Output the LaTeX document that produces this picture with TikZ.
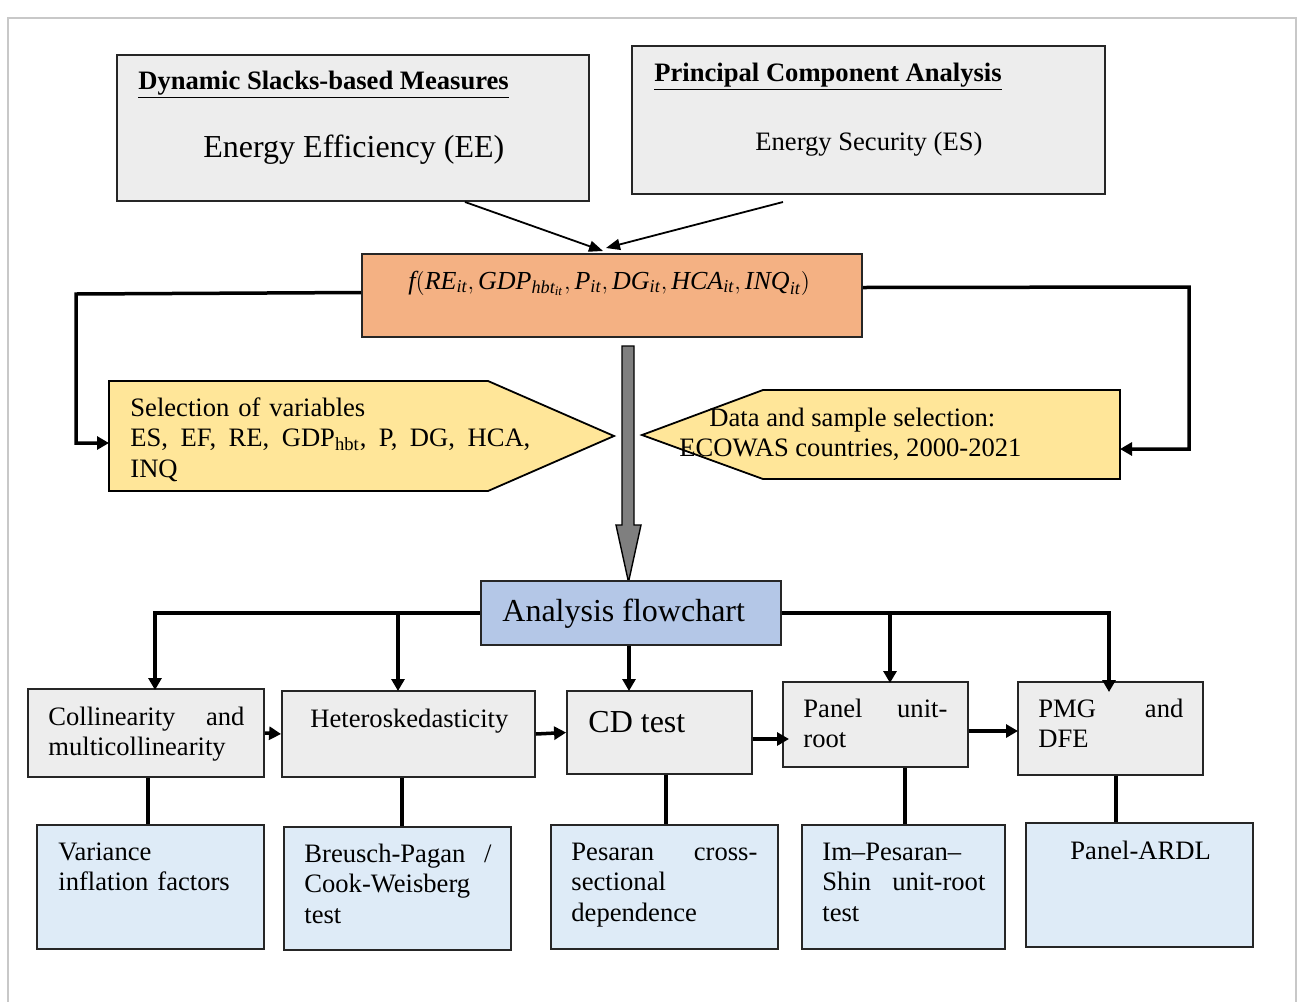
\documentclass[tikz,border=0pt]{standalone}
\usepackage{fontspec}
\setmainfont{Liberation Serif}
\usetikzlibrary{arrows.meta,fit,calc}
\definecolor{boxgray}{HTML}{EDEDED}
\definecolor{formorange}{HTML}{F4B183}
\definecolor{penyellow}{HTML}{FFE699}
\definecolor{anablue}{HTML}{B4C7E7}
\definecolor{lightblue}{HTML}{DEEBF7}
\definecolor{arrowgray}{HTML}{7F7F7F}
\definecolor{framegray}{HTML}{C8C8C8}
\newcommand\mytxt{\fontsize{13.3}{15.3}\selectfont}
\newcommand\mybig{\fontsize{16}{19}\selectfont}
\newcommand\mv[1]{\mathit{#1}_{\mathit{it}}}
\tikzset{
  boxbase/.style={draw=black!85, line width=0.9pt, inner sep=0pt},
  gbox/.style={boxbase, fill=boxgray},
  bbox/.style={boxbase, fill=lightblue},
  txt/.style={inner sep=0pt, anchor=base west, font=\mytxt},
  txtw/.style={txt, text width=#1, align=left},
  bigtxt/.style={inner sep=0pt, anchor=base west, font=\mybig},
  conn/.style={line width=1.75pt, -{Triangle[length=6pt,width=6.5pt]}},
  thinarr/.style={line width=0.9pt, -{Triangle[length=7pt,width=5.5pt]}},
  plain/.style={line width=1.75pt},
}
\begin{document}
\begin{tikzpicture}[x=0.5pt,y=-0.5pt]
\useasboundingbox (0,0) rectangle (1304,1001);
% outer frame
\draw[framegray, line width=0.8pt] (8,1010) -- (8,18) -- (1296,18) -- (1296,1010);

% top boxes
\node[gbox, fit={(117,55)(589,201)}] (dsbm) {};
\node[txt] (dsbmt) at (138,89) {\underline{\textbf{Dynamic Slacks-based Measures}}};
\node[bigtxt] (eet) at (203,157) {Energy Efficiency (EE)};

\node[gbox, fit={(632,46)(1105,194)}] (pca) {};
\node[txt] (pcat) at (654,81) {\underline{\textbf{Principal Component Analysis}}};
\node[txt] (est) at (755,150) {Energy Security (ES)};

% formula box
\node[boxbase, fill=formorange, fit={(362,254)(862,337)}] (form) {};
\node[txt, font=\fontsize{13}{16}\selectfont] (formt) at (408,289)
  {$\mathit{f}\bigl(\mv{RE}{,}\,\mathit{GDP}_{\mathit{hbt}_{\mathit{it}}}{,}\,\mv{P}{,}\,\mv{DG}{,}\,\mv{HCA}{,}\,\mv{INQ}\bigr)$};

\coordinate (dsbmout) at (465,202);
\coordinate (pcaout) at (783,202);
\coordinate (formin1) at (603,251);
\coordinate (formin2) at (606,248);
\draw[thinarr] (dsbmout) -- (formin1);
\draw[thinarr] (pcaout) -- (formin2);

% pentagons
\draw[fill=penyellow, line width=0.9pt] (109,381) -- (488,381) -- (614,436) -- (488,491) -- (109,491) -- cycle;
\coordinate (selin) at (109,443);
\node[txtw=200pt] (selt) at (130,416) {Selection of variables\\
  ES,\hfill EF,\hfill RE,\hfill GDP\textsubscript{hbt},\hfill P,\hfill DG,\hfill HCA,\\
  INQ};

\draw[fill=penyellow, line width=0.9pt] (642,435) -- (763,390) -- (1120,390) -- (1120,479) -- (763,479) -- cycle;
\coordinate (datain) at (1120,449);
\node[txt] (datat1) at (709,426) {Data and sample selection:};
\node[txt] (datat2) at (679,456) {ECOWAS countries, 2000-2021};

% side connectors
\draw[conn] ($(form.west)+(0,-3)$) -- (76,294) |- (selin);
\draw[conn] ($(form.east)+(0,-8)$) -- (1189,287) |- (datain);

% big gray arrow
\draw[fill=arrowgray, line width=0.7pt] (622,346) -- (634,346) -- (634,525) -- (641,525) -- (628.5,582) -- (616,525) -- (622,525) -- cycle;

% analysis box
\node[boxbase, fill=anablue, fit={(481,581)(781,645)}] (ana) {};
\node[bigtxt] (anat) at (502,621) {Analysis flowchart};

% middle row
\node[gbox, fit={(28,689)(264,777)}] (coll) {};
\node[txtw=98pt] (collt) at (48,725) {Collinearity\hfill and\\multicollinearity};

\node[gbox, fit={(282,691)(535,777)}] (het) {};
\node[txt] (hett) at (310,727) {Heteroskedasticity};

\node[gbox, fit={(567,691)(752,774)}] (cd) {};
\node[bigtxt] (cdt) at (588,732) {CD test};

\node[gbox, fit={(783,682)(968,767)}] (pur) {};
\node[txtw=72pt] (purt) at (803,717) {Panel\hfill unit-\\root};

\node[gbox, fit={(1018,682)(1203,775)}] (pmg) {};
\node[txtw=72.5pt] (pmgt) at (1038,717) {PMG\hfill and\\DFE};

% bottom row
\node[bbox, fit={(37,825)(264,949)}] (vif) {};
\node[txtw=100pt] (vift) at (58,860) {Variance\\inflation factors};

\node[bbox, fit={(284,827)(511,950)}] (bp) {};
\node[txtw=93.5pt] (bpt) at (304,862) {Breusch-Pagan\hfill /\\Cook-Weisberg\\test};

\node[bbox, fit={(551,825)(778,949)}] (pes) {};
\node[txtw=93pt] (pest) at (571,860) {Pesaran\hfill cross-\\sectional\\dependence};

\node[bbox, fit={(802,825)(1005,949)}] (ips) {};
\node[txtw=81.5pt] (ipst) at (822,860) {Im–Pesaran–\\Shin\hfill unit-root\\test};

\node[bbox, fit={(1026,823)(1253,947)}] (ardl) {};
\node[txt] (ardlt) at (1070,859) {Panel-ARDL};

% analysis connectors
\coordinate (collin) at (155,690);
\coordinate (hetin) at (398,691);
\coordinate (cdin) at (629,691);
\coordinate (purin) at (890,683);
\coordinate (pmgin) at (1109,692);
\draw[conn] (ana.west) -| (collin);
\draw[conn] (hetin |- ana.west) -- (hetin);
\draw[conn] (ana.south -| cdin) -- (cdin);
\draw[conn] (ana.east) -| (pmgin);
\draw[conn] (purin |- ana.east) -- (purin);

% horizontal arrows
\draw[conn] (coll.east) -- (het.west);
\draw[conn] (het.east) -- (cd.west);
\coordinate (cdp) at (789,739);
\draw[conn] (cd.east |- cdp) -- (cdp);
\coordinate (pp) at (1018,731);
\draw[conn] (pur.east |- pp) -- (pp);

% vertical plain lines
\coordinate (v1) at (148,0);
\coordinate (v2) at (402,0);
\coordinate (v3) at (666,0);
\coordinate (v4) at (905,0);
\coordinate (v5) at (1116,0);
\draw[plain] (coll.south -| v1) -- (vif.north -| v1);
\draw[plain] (het.south -| v2) -- (bp.north -| v2);
\draw[plain] (cd.south -| v3) -- (pes.north -| v3);
\draw[plain] (pur.south -| v4) -- (ips.north -| v4);
\draw[plain] (pmg.south -| v5) -- (ardl.north -| v5);
\end{tikzpicture}
\end{document}
